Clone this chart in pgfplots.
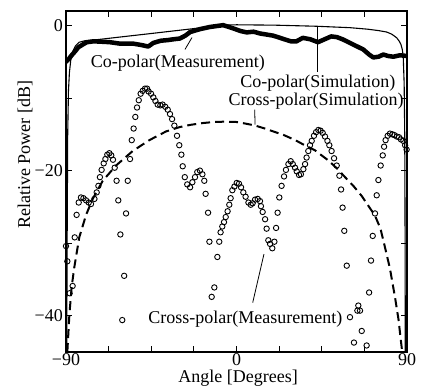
\documentclass[border=0pt]{standalone}
\usepackage{pgfplots}
\pgfplotsset{compat=1.18}
\usepackage{fontspec}
\setmainfont{Liberation Serif}

\begin{document}
\begin{tikzpicture}[x=1bp,y=1bp]
\useasboundingbox (-66,-38) rectangle (356,352);
\begin{axis}[
  at={(0,0)}, anchor=south west,
  scale only axis, width=341bp, height=341bp,
  xmin=-90, xmax=90, ymin=-45, ymax=2,
  xtick={-90,0,90}, xticklabels={−90,0,90},
  minor xtick={-67.5,-45,-22.5,22.5,45,67.5},
  ytick={-40,-20,0}, yticklabels={−40,−20,0},
  minor ytick={-30,-10},
  tick align=inside,
  major tick length=6bp, minor tick length=6bp,
  every tick/.style={line width=1bp, black},
  axis line style={line width=1.2bp},
  every tick label/.append style={font=\fontsize{18bp}{20bp}\selectfont},
  xticklabel style={inner sep=1bp},
  yticklabel style={inner sep=3bp},
  label style={font=\fontsize{18bp}{20bp}\selectfont},
  xlabel={Angle [Degrees]},
  ylabel={Relative Power [dB]},
  xlabel style={at={(axis description cs:0.505,-0.076)}, anchor=center},
  ylabel style={at={(axis description cs:-0.120,0.578)}, anchor=center},
]
% Cross-polar simulation (dashed)
\addplot[black, line width=2bp, dash pattern=on 9bp off 5bp] coordinates {
(-89.3,-45) (-88.2,-39.8) (-87,-36) (-85.6,-33.3) (-83,-29.2) (-79.4,-26.1)
(-75.9,-23.9) (-70.6,-21.4) (-63.6,-19.3) (-54.8,-17.3) (-46,-15.8) (-37.2,-14.6)
(-30,-14.0) (-24.5,-13.7) (-18,-13.45) (-12,-13.3) (-6,-13.25) (0,-13.3)
(5.4,-13.55) (10,-13.8) (15,-14.2) (19.4,-14.6) (25,-15.1) (31,-15.8) (36,-16.5)
(41.4,-17.2) (48.5,-18.6) (53,-19.7) (57.3,-20.9) (62,-22.2) (66.1,-23.5)
(70,-25.0) (73.1,-26.2) (76,-28.0) (78.4,-30.6) (81,-33.5) (83.7,-37.5)
(85.5,-40.5) (87.2,-44.4) (87.5,-45)
};
% Co-polar simulation (thin)
\addplot[black, line width=1.1bp] coordinates {
(-89.6,-45) (-89.4,-30) (-89.1,-15) (-88.7,-9) (-88.2,-6.5) (-87.5,-4.8)
(-86.5,-3.6) (-85,-2.8) (-83,-2.3) (-80,-2.1) (-77,-2.05) (-45,-1.1) (-20,-0.35)
(-7,0.05) (0,0.1) (20,0.05) (42,-0.1) (60,-0.3) (69,-0.5) (75,-0.7) (79.3,-0.9)
(82,-1.2) (84.6,-1.7) (86,-2.2) (86.8,-2.6) (87.5,-3.3) (88,-4.2) (88.5,-8)
(88.8,-15) (89.0,-30) (89.1,-45)
};
% Co-polar measurement (thick)
\addplot[black, line width=4.5bp, line join=round, line cap=round] coordinates {
(-90,-5.0) (-88.5,-4.6) (-87,-4.1) (-85,-3.5) (-83.5,-3.0) (-81,-2.6) (-79,-2.3)
(-76,-2.2) (-73.8,-2.2) (-70,-2.25) (-66.8,-2.3) (-61.5,-2.5) (-54.5,-2.5)
(-50,-2.7) (-46.6,-2.9) (-43.9,-2.4) (-40,-2.1) (-36,-2.0) (-33.4,-1.9)
(-30,-1.8) (-27,-1.4) (-24.5,-0.9) (-19.3,-0.5) (-14,-0.2) (-7,0.05)
(-1.7,-0.4) (2,-0.75) (5.4,-0.95) (9,-0.85) (12.4,-1.1) (16,-1.25) (19.4,-1.4)
(23,-1.7) (26.5,-2.0) (29,-2.2) (31.5,-2.2) (35,-1.7) (39,-1.9) (43,-2.3)
(46.5,-1.9) (50,-1.5) (53,-1.6) (56,-1.9) (59.9,-2.4) (63,-2.8) (66.9,-3.3)
(70,-4.0) (72.2,-4.4) (75,-4.3) (77.5,-4.0) (80,-4.2) (82.8,-4.3) (86.3,-4.1)
(90,-4.2)
};
% Cross-polar measurement (circles)
\addplot[only marks, mark=o, mark size=2.7bp, mark options={line width=0.9bp, black}] coordinates {
(-90.0,-30.4) (-89.3,-32.5) (-88.1,-36.9) (-86.5,-35.9) (-85.4,-29.2)
(-84.4,-26.1) (-83.3,-24.4) (-82.1,-23.7) (-80.8,-23.8) (-79.4,-24.1)
(-78.0,-24.4) (-76.8,-24.6) (-75.0,-23.9) (-73.8,-23.0) (-72.9,-22.1)
(-72.1,-20.9) (-71.2,-19.9) (-70.1,-19.0) (-69.2,-18.4) (-68.2,-17.8)
(-67.1,-17.6) (-66.1,-17.9) (-65.2,-18.5) (-64.3,-19.6) (-63.3,-21.4)
(-62.4,-24.1) (-61.3,-28.8) (-60.3,-40.6) (-59.3,-34.5) (-58.3,-25.9)
(-57.4,-21.4) (-56.2,-18.4) (-55.3,-15.8) (-54.3,-14.2) (-53.4,-12.6)
(-52.5,-11.3) (-51.6,-10.3) (-50.6,-9.4) (-49.5,-9.0) (-48.3,-8.7)
(-47.2,-8.7) (-46.4,-9.1) (-45.1,-9.4) (-43.9,-9.9) (-42.8,-10.4)
(-41.6,-10.9) (-40.2,-11.0) (-39.0,-10.9) (-37.6,-11.2) (-36.3,-11.6)
(-35.1,-12.2) (-34.0,-12.9) (-32.8,-13.8) (-31.4,-15.2) (-30.2,-16.5)
(-29.1,-17.8) (-28.4,-19.4) (-27.3,-20.9) (-26.0,-21.9) (-24.5,-22.3)
(-23.3,-21.6) (-21.9,-20.9) (-20.7,-20.2) (-19.3,-20.0) (-18.0,-20.5)
(-17.0,-21.4) (-16.3,-23.2) (-15.0,-25.8) (-14.3,-29.8) (-13.1,-37.4)
(-11.7,-36.1) (-10.1,-31.9) (-9.1,-29.8) (-8.4,-28.5) (-7.5,-27.7)
(-6.6,-27.1) (-5.7,-26.4) (-4.7,-25.6) (-3.8,-24.7) (-3.1,-23.8)
(-2.2,-22.7) (-1.1,-22.2) (0.1,-21.7) (1.3,-21.8) (2.4,-22.3) (3.6,-23.0)
(4.8,-23.6) (6.3,-24.4) (7.5,-24.7) (8.5,-24.5) (9.8,-24.0) (11.2,-23.9)
(12.4,-24.2) (12.9,-24.9) (13.8,-25.7) (15.1,-26.7) (15.9,-28.0)
(16.8,-29.6) (17.7,-30.1) (18.9,-30.7) (20.0,-29.8) (20.9,-27.9)
(21.7,-25.8) (22.6,-23.7) (23.8,-22.1) (25.1,-20.8) (26.1,-19.9)
(27.4,-19.1) (28.6,-18.7) (29.7,-19.1) (30.9,-19.6) (31.8,-20.1)
(33.0,-20.6) (34.0,-20.5) (35.3,-19.8) (36.2,-19.1) (37.0,-18.2)
(37.9,-17.3) (38.8,-16.5) (39.7,-15.9) (40.9,-15.2) (42.0,-14.7)
(43.2,-14.4) (44.4,-14.5) (45.5,-14.8) (46.7,-15.3) (48.0,-15.9)
(49.0,-16.5) (50.2,-17.3) (51.5,-18.3) (52.9,-19.3) (54.3,-20.7)
(55.2,-22.6) (56.0,-25.1) (56.9,-28.3) (58.2,-33.1) (59.9,-40.2)
(62.0,-43.7) (63.8,-39.3) (64.3,-38.6) (65.2,-39.3) (66.1,-42.1)
(68.7,-44.1) (70.0,-36.8) (71.0,-32.4) (71.9,-29.0) (73.1,-25.9)
(74.0,-23.4) (74.9,-21.3) (76.1,-19.3) (77.2,-17.9) (77.9,-16.7)
(78.7,-15.8) (79.8,-15.2) (81.0,-14.9) (82.3,-15.0) (83.3,-15.1)
(84.6,-15.3) (85.8,-15.4) (86.8,-15.7) (88.1,-15.9) (89.0,-16.5) (89.8,-17.1)
};
% labels
\node[anchor=base west, inner sep=0, font=\fontsize{18bp}{20bp}\selectfont] at (axis cs:-77,-5.75) {Co-polar(Measurement)};
\node[anchor=base west, inner sep=0, font=\fontsize{18bp}{20bp}\selectfont] at (axis cs:2.0,-8.6) {Co-polar(Simulation)};
\node[anchor=base west, inner sep=0, font=\fontsize{18bp}{20bp}\selectfont] at (axis cs:-4.3,-11.0) {Cross-polar(Simulation)};
\node[anchor=base west, inner sep=0, font=\fontsize{18bp}{20bp}\selectfont] at (axis cs:-46.6,-41.1) {Cross-polar(Measurement)};
\draw[line width=0.8bp] (axis cs:-27.2,-3.3) -- (axis cs:-23.5,-1.66);
\draw[line width=0.8bp] (axis cs:42.5,-0.2) -- (axis cs:42.5,-6.4);
\draw[line width=0.8bp] (axis cs:9.6,-11.6) -- (axis cs:9.8,-13.65);
\draw[line width=0.8bp] (axis cs:8.55,-38.2) -- (axis cs:14.5,-31.5);
\end{axis}
\end{tikzpicture}
\end{document}
